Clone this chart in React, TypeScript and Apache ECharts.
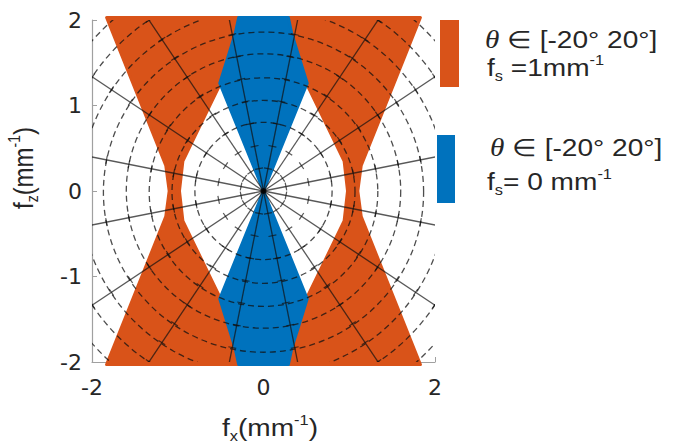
import React, { useEffect, useRef } from "react";
import * as echarts from "echarts";

// ---- data ----
const xTickValues = [-2, 0, 2];
const yTickValues = [-2, -1, 0, 1, 2];

// orange region, theta in [-20,20], fs = 1 mm^-1 (right lobe)
const orangeRight: number[][] = [
  [0.30, 2.03], [1.83, 2.03], [1.14, 0.30], [1.10, 0.0], [1.14, -0.30], [1.83, -2.03],
  [0.30, -2.03], [0.34, -1.84], [0.50, -1.26], [0.94, -0.35], [0.98, 0.0], [0.94, 0.35],
  [0.50, 1.26], [0.34, 1.84],
];
// orange region, left lobe
const orangeLeft: number[][] = [
  [-0.30, 2.03], [-1.83, 2.03], [-1.14, 0.30], [-1.10, 0.0], [-1.14, -0.30], [-1.83, -2.03],
  [-0.30, -2.03], [-0.34, -1.84], [-0.50, -1.26], [-0.94, -0.35], [-0.98, 0.0], [-0.94, 0.35],
  [-0.50, 1.26], [-0.34, 1.84],
];
// blue region, fs = 0
const blueUpper: number[][] = [
  [-0.29, 2.03], [0.29, 2.03], [0.33, 1.84], [0.51, 1.26], [0, 0], [-0.51, 1.26], [-0.33, 1.84],
];
const blueLower: number[][] = [
  [-0.29, -2.03], [0.29, -2.03], [0.33, -1.84], [0.51, -1.26], [0, 0], [-0.51, -1.26], [-0.33, -1.84],
];

// polar grid
const radialAnglesDeg = [11.25, 33.75, 56.25, 78.75, 101.25, 123.75, 146.25, 168.75, 191.25, 213.75, 236.25, 258.75, 281.25, 303.75, 326.25, 348.75];
const circleRadii = [0.8, 1.067, 1.333, 1.6, 1.867, 2.133, 2.4, 2.667, 2.933];
const tickRadii = [0.267, 0.533, 0.8, 1.067, 1.333, 1.6, 1.867, 2.133, 2.4];

const ORANGE = "#D95319";
const BLUE = "#0072BD";
const FONT = "'Liberation Sans', Arial, Helvetica, sans-serif";
const TICKFONT = "'DejaVu Sans', sans-serif";
const TXT = "#262626";
const STRETCH = 1.17;

function polySeries(poly: number[][], color: string) {
  return {
    type: "custom",
    coordinateSystem: "cartesian2d",
    clip: false,
    silent: true,
    z: 1,
    data: [[0, 0]],
    renderItem: (_p: any, api: any) => ({
      type: "polygon",
      shape: { points: poly.map((pt) => api.coord(pt)) },
      style: { fill: color, stroke: color, lineWidth: 3, lineJoin: "round" },
    }),
  };
}

const richBase = (size: number) => ({
  m: { fontSize: size, fontFamily: FONT, fill: TXT, lineHeight: 30 },
  t: { fontSize: size + 1, fontFamily: "'Liberation Serif', 'Times New Roman', serif", fontStyle: "italic", fill: TXT, lineHeight: 30 },
  sub: { fontSize: 14, fontFamily: FONT, fill: TXT, verticalAlign: "bottom", lineHeight: 13 },
  sup: { fontSize: 14, fontFamily: FONT, fill: TXT, verticalAlign: "top", lineHeight: 26 },
});

function richText(text: string, x: number, y: number, size: number, opts: any = {}) {
  return {
    type: "text",
    x,
    y,
    rotation: opts.rotation || 0,
    scaleX: opts.scaleX || 1,
    scaleY: opts.scaleY || 1,
    silent: true,
    style: {
      text,
      rich: richBase(size),
      align: opts.align || "left",
      verticalAlign: "middle",
      fill: TXT,
    },
  };
}

function buildOption() {
  return {
    animation: false,
    backgroundColor: "#ffffff",
    grid: { left: 92, top: 20, width: 343, height: 342, containLabel: false },
    xAxis: {
      type: "value",
      min: -2,
      max: 2,
      interval: 2,
      axisLine: { show: true, onZero: false, lineStyle: { color: "#a0a0a0", width: 1.2 } },
      axisTick: { show: true, inside: true, length: 5, lineStyle: { color: "#a0a0a0" } },
      axisLabel: {
        fontSize: 22, color: TXT, fontFamily: TICKFONT, margin: 14,
        formatter: (v: number) => (xTickValues.includes(v) ? String(v) : ""),
      },
      splitLine: { show: false },
    },
    yAxis: {
      type: "value",
      min: -2,
      max: 2,
      interval: 1,
      axisLine: { show: true, onZero: false, lineStyle: { color: "#a0a0a0", width: 1.2 } },
      axisTick: { show: true, inside: true, length: 5, lineStyle: { color: "#a0a0a0" } },
      axisLabel: {
        fontSize: 22, color: TXT, fontFamily: TICKFONT, margin: 10,
        formatter: (v: number) => (yTickValues.includes(v) ? String(v) : ""),
      },
      splitLine: { show: false },
    },
    series: [
      polySeries(orangeLeft, ORANGE),
      polySeries(orangeRight, ORANGE),
      polySeries(blueUpper, BLUE),
      polySeries(blueLower, BLUE),
      {
        type: "custom",
        coordinateSystem: "cartesian2d",
        clip: true,
        silent: true,
        z: 3,
        data: circleRadii.map((r) => [r, 0]),
        renderItem: (_p: any, api: any) => {
          const c = api.coord([0, 0]);
          const r = api.size([api.value(0), 0])[0];
          return {
            type: "circle",
            shape: { cx: c[0], cy: c[1], r },
            style: { fill: "none", stroke: "#111", lineWidth: 1.3, lineDash: [6, 4], opacity: 0.75 },
          };
        },
      },
      {
        type: "custom",
        coordinateSystem: "cartesian2d",
        clip: true,
        silent: true,
        z: 4,
        data: radialAnglesDeg.map((a) => [a, 0]),
        renderItem: (_p: any, api: any) => {
          const a = (api.value(0) * Math.PI) / 180;
          const R = 3.2;
          const p0 = api.coord([0, 0]);
          const p1 = api.coord([R * Math.cos(a), R * Math.sin(a)]);
          const children: any[] = [
            {
              type: "line",
              shape: { x1: p0[0], y1: p0[1], x2: p1[0], y2: p1[1] },
              style: { stroke: "#111", lineWidth: 1.3, opacity: 0.7 },
            },
          ];
          const half = 4;
          const ux = Math.cos(a), uy = -Math.sin(a); // pixel direction
          const nx = -uy, ny = ux; // perpendicular
          tickRadii.forEach((tr) => {
            const q = api.coord([tr * Math.cos(a), tr * Math.sin(a)]);
            children.push({
              type: "line",
              shape: { x1: q[0] - nx * half, y1: q[1] - ny * half, x2: q[0] + nx * half, y2: q[1] + ny * half },
              style: { stroke: "#111", lineWidth: 1.2, opacity: 0.7 },
            });
          });
          return { type: "group", children };
        },
      },
      {
        type: "scatter",
        silent: true,
        z: 5,
        symbol: "circle",
        symbolSize: 6,
        itemStyle: { color: "#000" },
        data: [[0, 0]],
      },
    ],
    graphic: [
      { type: "rect", silent: true, shape: { x: 440, y: 20, width: 19, height: 67 }, style: { fill: ORANGE } },
      { type: "rect", silent: true, shape: { x: 437, y: 135, width: 18, height: 68 }, style: { fill: BLUE } },
      richText("{t|θ}{m| ∈ [-20° 20°]}", 485, 40, 24, { scaleX: STRETCH }),
      richText("{m|f}{sub|s}{m| =1mm}{sup|-1}", 487, 68, 24, { scaleX: STRETCH }),
      richText("{t|θ}{m| ∈ [-20° 20°]}", 490, 148, 24, { scaleX: STRETCH }),
      richText("{m|f}{sub|s}{m|= 0 mm}{sup|-1}", 487, 182, 24, { scaleX: STRETCH }),
      richText("{m|f}{sub|x}{m|(mm}{sup|-1}{m|)}", 270, 428, 24, { align: "center", scaleX: STRETCH }),
      richText("{m|f}{sub|z}{m|(mm}{sup|-1}{m|)}", 23, 168, 24, { align: "center", rotation: Math.PI / 2, scaleY: STRETCH }),
    ],
  };
}

export default function App() {
  const ref = useRef<HTMLDivElement>(null);
  useEffect(() => {
    if (!ref.current) return;
    const chart = echarts.init(ref.current, undefined, { renderer: "svg" });
    chart.setOption(buildOption() as any);
    return () => chart.dispose();
  }, []);
  return (
    <div
      ref={ref}
      style={{ position: "fixed", left: 0, top: 0, width: 675, height: 447, background: "#fff" }}
    />
  );
}
